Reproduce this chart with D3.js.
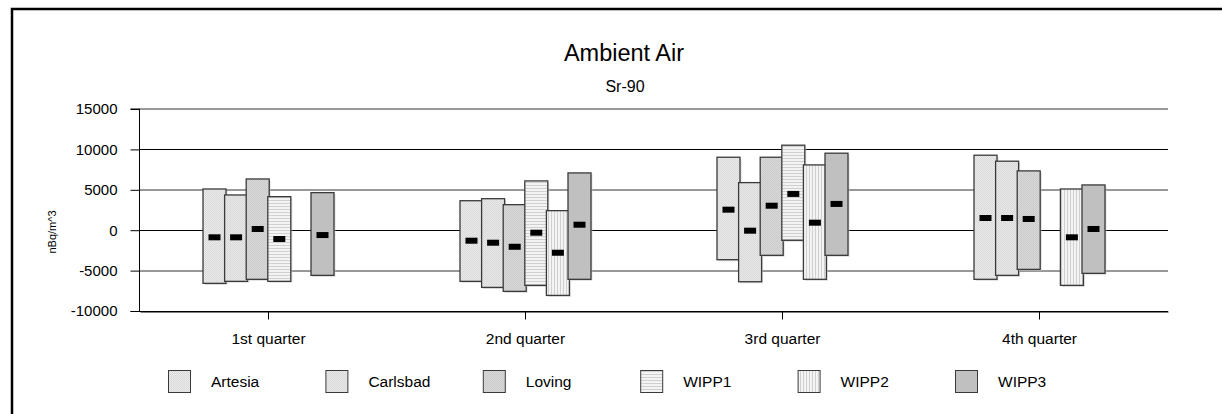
<!DOCTYPE html>
<html><head><meta charset="utf-8">
<script src="https://cdn.jsdelivr.net/npm/d3@7"></script>
<style>body{margin:0;background:#fff}svg{display:block}text{font-family:"Liberation Sans",Arial,sans-serif;fill:#000}</style>
</head><body><svg id="c" width="1222" height="414"></svg>
<script>
const categories = ["1st quarter","2nd quarter","3rd quarter","4th quarter"];
const seriesNames = ["Artesia","Carlsbad","Loving","WIPP1","WIPP2","WIPP3"];
const yTicks = [-10000,-5000,0,5000,10000,15000];
// high / low / central values per series, per quarter (null = no data)
const artesiaHigh = [5100, 3650, 9030, 9280];
const artesiaLow  = [-6580, -6330, -3650, -6080];
const artesiaMid  = [-880, -1300, 2540, 1510];
const carlsbadHigh = [4360, 3900, 5890, 8540];
const carlsbadLow  = [-6330, -7080, -6380, -5590];
const carlsbadMid  = [-880, -1550, -60, 1510];
const lovingHigh = [6340, 3160, 9030, 7340];
const lovingLow  = [-6080, -7570, -3110, -4850];
const lovingMid  = [150, -2050, 3030, 1390];
const wipp1High = [4150, 6100, 10520, null];
const wipp1Low  = [-6330, -6830, -1250, null];
const wipp1Mid  = [-1090, -310, 4490, null];
const wipp2High = [null, 2420, 8080, 5100];
const wipp2Low  = [null, -8070, -6080, -6830];
const wipp2Mid  = [null, -2790, 930, -880];
const wipp3High = [4650, 7090, 9530, 5600];
const wipp3Low  = [-5590, -6080, -3110, -5340];
const wipp3Mid  = [-600, 680, 3250, 150];

const highs = [artesiaHigh, carlsbadHigh, lovingHigh, wipp1High, wipp2High, wipp3High];
const lows  = [artesiaLow, carlsbadLow, lovingLow, wipp1Low, wipp2Low, wipp3Low];
const mids  = [artesiaMid, carlsbadMid, lovingMid, wipp1Mid, wipp2Mid, wipp3Mid];

const svg = d3.select("#c");
const defs = svg.append("defs");
function dotPat(id, bg, fg, size){
  const p = defs.append("pattern").attr("id",id).attr("patternUnits","userSpaceOnUse").attr("width",size).attr("height",size);
  p.append("rect").attr("width",size).attr("height",size).attr("fill",bg);
  p.append("rect").attr("x",0).attr("y",0).attr("width",1).attr("height",1).attr("fill",fg);
  p.append("rect").attr("x",size/2).attr("y",size/2).attr("width",1).attr("height",1).attr("fill",fg);
}
dotPat("pA","#ebebeb","#d9d9d9",2);
dotPat("pC","#e7e7e7","#dadada",2);
dotPat("pL","#d9d9d9","#cacaca",2);
{
  const p = defs.append("pattern").attr("id","pW1").attr("patternUnits","userSpaceOnUse").attr("width",4).attr("height",3);
  p.append("rect").attr("width",4).attr("height",3).attr("fill","#f3f3f3");
  p.append("rect").attr("y",2).attr("width",4).attr("height",1).attr("fill","#d0d0d0");
}
{
  const p = defs.append("pattern").attr("id","pW2").attr("patternUnits","userSpaceOnUse").attr("width",3).attr("height",4);
  p.append("rect").attr("width",3).attr("height",4).attr("fill","#f3f3f3");
  p.append("rect").attr("x",2).attr("width",1).attr("height",4).attr("fill","#d0d0d0");
}
const fills = ["url(#pA)","url(#pC)","url(#pL)","url(#pW1)","url(#pW2)","#c0c0c0"];

// outer frame
svg.append("rect").attr("x",12).attr("y",9).attr("width",1400).attr("height",600)
  .attr("fill","none").attr("stroke","#000").attr("stroke-width",2.5);

const plotL = 140, plotR = 1168, plotT = 109, plotB = 311;
const x = d3.scaleBand().domain(categories).range([plotL, plotR]);
const y = d3.scaleLinear().domain([-10000, 15000]).range([plotB, plotT]);

// gridlines
yTicks.forEach(t => {
  const yy = y(t);
  const crisp = (t % 10000 === 0);
  const py = crisp ? Math.round(yy) + 0.5 : Math.round(yy);
  svg.append("line").attr("x1",plotL-1).attr("x2",plotR).attr("y1",py).attr("y2",py)
    .attr("stroke", crisp ? "#000" : "#333").attr("stroke-width",1);
});

// y axis
const yAxis = d3.axisLeft(y).tickValues(yTicks).tickSize(9).tickPadding(13).tickFormat(d => String(d));
const gy = svg.append("g").attr("transform","translate(139.5,0)").call(yAxis);
gy.select(".domain").attr("stroke","#000").attr("d", `M-9,${plotT}H0V${plotB+0.5}H-9`);
gy.selectAll(".tick line").attr("stroke","#000");
gy.selectAll(".tick text").attr("font-size",15).attr("font-family","Liberation Sans, Arial, sans-serif").attr("fill","#000");

// x axis
const xAxis = d3.axisBottom(x).tickSize(8).tickPadding(13).tickSizeOuter(0);
const gx = svg.append("g").attr("transform",`translate(0,${Math.round(plotB)+0.5})`).call(xAxis);
gx.select(".domain").attr("stroke","#000");
gx.selectAll(".tick line").attr("stroke","#000");
gx.selectAll(".tick text").attr("font-size",15.5).attr("font-family","Liberation Sans, Arial, sans-serif").attr("fill","#000");

// bars
const step = 21.6, barW = 23;
const barX = (ci, si) => x(categories[ci]) + x.bandwidth()/2 - 65.5 + step*si;
seriesNames.forEach((s, si) => {
  const g = svg.append("g");
  categories.forEach((c, ci) => {
    const hi = highs[si][ci], lo = lows[si][ci];
    if (hi == null) return;
    const bx = barX(ci, si);
    g.append("rect").attr("x",bx+1.5).attr("y",y(hi)+1.5).attr("width",barW).attr("height",y(lo)-y(hi))
      .attr("fill","#c8c8c8").attr("opacity",0.6);
    g.append("rect").attr("x",bx).attr("y",y(hi)).attr("width",barW).attr("height",y(lo)-y(hi))
      .attr("fill",fills[si]).attr("stroke","#3a3a3a").attr("stroke-width",1.3);
  });
});
// central markers
seriesNames.forEach((s, si) => {
  categories.forEach((c, ci) => {
    const m = mids[si][ci];
    if (m == null) return;
    const cx = barX(ci, si) + barW/2;
    svg.append("rect").attr("x",cx-6).attr("y",y(m)-3).attr("width",12).attr("height",6).attr("fill","#000");
  });
});

// titles
svg.append("text").attr("x",624).attr("y",61).attr("text-anchor","middle").attr("font-size",23.5).text("Ambient Air");
svg.append("text").attr("x",625).attr("y",92).attr("text-anchor","middle").attr("font-size",16).text("Sr-90");
svg.append("text").attr("transform","translate(56,232) rotate(-90)").attr("text-anchor","middle")
  .attr("font-size",11).attr("fill","#000").text("nBq/m^3");

// legend
const legX = d3.scalePoint().domain(seriesNames).range([168, 955]);
seriesNames.forEach((s, si) => {
  const lx = legX(s);
  svg.append("rect").attr("x",lx+0.5).attr("y",370.5).attr("width",22).attr("height",22)
    .attr("fill",fills[si]).attr("stroke","#3a3a3a").attr("stroke-width",1);
  svg.append("text").attr("x",lx+43).attr("y",387).attr("font-size",15.5).text(s);
});
</script></body></html>
